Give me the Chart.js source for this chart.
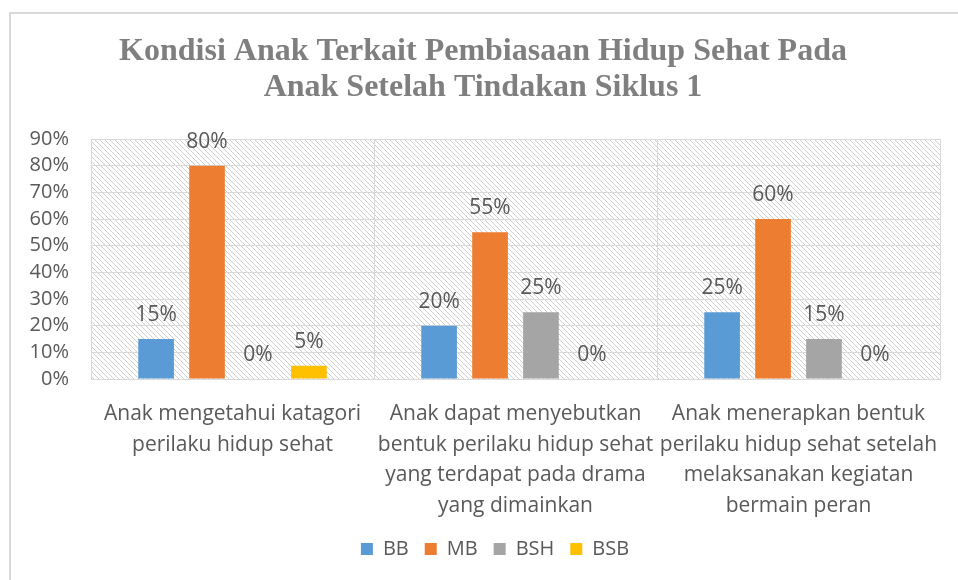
<!DOCTYPE html>
<html>
<head>
<meta charset="utf-8">
<script src="https://cdn.jsdelivr.net/npm/chart.js@4/dist/chart.umd.min.js"></script>
<style>
  body { margin: 0; background: #fff; }
  #wrap { width: 958px; height: 580px; position: relative; }
</style>
</head>
<body>
<div id="wrap"><canvas id="chart_siklus1" width="958" height="580"></canvas></div>
<script>
// data
var categories = [
    ['Anak mengetahui katagori', 'perilaku hidup sehat'],
    ['Anak dapat menyebutkan', 'bentuk perilaku hidup sehat', 'yang terdapat pada drama', 'yang dimainkan'],
    ['Anak menerapkan bentuk', 'perilaku hidup sehat setelah', 'melaksanakan kegiatan', 'bermain peran']
];
var seriesNames = ['BB', 'MB', 'BSH', 'BSB'];
var bbValues = [15, 20, 25];
var mbValues = [80, 55, 60];
var bshValues = [0, 25, 15];
var bsbValues = [5, 0, 0];
var yMax = 90;
var yStep = 10;

var colors = ['#5B9BD5', '#ED7D31', '#A5A5A5', '#FFC000'];
var textGray = '#595959';
var labelFont = "'Open Sans', 'Noto Sans', sans-serif";

function hatchPattern(ctx) {
    var c = document.createElement('canvas');
    c.width = 5; c.height = 5;
    var p = c.getContext('2d');
    p.strokeStyle = '#cfcfcf';
    p.lineWidth = 1;
    p.beginPath();
    p.moveTo(-1, -1); p.lineTo(6, 6);
    p.moveTo(-1, 4); p.lineTo(1, 6);
    p.moveTo(4, -1); p.lineTo(6, 1);
    p.stroke();
    return ctx.createPattern(c, 'repeat');
}

var allValues = [bbValues, mbValues, bshValues, bsbValues];
var datasets = seriesNames.map(function (name, i) {
    return {
        label: name,
        data: allValues[i],
        backgroundColor: colors[i],
        borderWidth: 0,
        barPercentage: 0.7,
        categoryPercentage: 0.72
    };
});

var chart_siklus1 = new Chart(document.getElementById('chart_siklus1'), {
    type: 'bar',
    data: {
        labels: categories,
        datasets: datasets
    },
    options: {
        animation: false,
        responsive: false,
        layout: {
            padding: { left: 26, right: 18, top: 18, bottom: 11 }
        },
        plugins: {
            title: {
                display: true,
                text: ['Kondisi Anak Terkait Pembiasaan Hidup Sehat Pada', 'Anak Setelah Tindakan Siklus 1'],
                color: '#7f7f7f',
                font: { family: "'Liberation Serif', serif", size: 32, weight: 'bold', lineHeight: 1.125 },
                padding: { top: 16, bottom: 33 }
            },
            legend: {
                position: 'bottom',
                labels: {
                    color: textGray,
                    font: { family: labelFont, size: 20 },
                    boxWidth: 12,
                    boxHeight: 12,
                    padding: 16
                }
            },
            tooltip: { enabled: false }
        },
        scales: {
            x: {
                grid: {
                    offset: true,
                    color: '#d9d9d9',
                    drawTicks: false
                },
                border: { color: '#d9d9d9' },
                ticks: {
                    color: textGray,
                    font: { family: labelFont, size: 21, lineHeight: 1.45 },
                    padding: 20,
                    maxRotation: 0,
                    autoSkip: false
                },
                afterFit: function (scale) {
                    scale.height = 144;
                    scale.paddingLeft = 0;
                    scale.paddingRight = 0;
                }
            },
            y: {
                min: 0,
                max: yMax,
                grid: {
                    color: '#d9d9d9',
                    drawTicks: false
                },
                border: { display: false },
                ticks: {
                    stepSize: yStep,
                    autoSkip: false,
                    color: textGray,
                    font: { family: labelFont, size: 20 },
                    padding: 22,
                    callback: function (value) { return value + '%'; }
                },
                afterFit: function (scale) {
                    scale.width = 65;
                }
            }
        }
    },
    plugins: [{
        id: 'hatchBackground',
        afterLayout: function (chart) {
            // legend sits a little right of centre in the original
            chart.legend.left += 12;
            chart.legend.right += 12;
        },
        beforeDraw: function (chart) {
            var ctx = chart.ctx;
            var a = chart.chartArea;
            ctx.save();
            ctx.fillStyle = '#fff';
            ctx.fillRect(0, 0, chart.width, chart.height);
            ctx.fillStyle = hatchPattern(ctx);
            ctx.fillRect(a.left, a.top, a.right - a.left, a.bottom - a.top);
            // outer frame (top and left edges visible in the original)
            ctx.fillStyle = '#d9d9d9';
            ctx.fillRect(9, 12, chart.width - 9, 2);
            ctx.fillRect(9, 12, 2, chart.height - 12);
            ctx.restore();
        }
    }, {
        id: 'valueLabels',
        afterDatasetsDraw: function (chart) {
            var ctx = chart.ctx;
            ctx.save();
            ctx.fillStyle = textGray;
            ctx.font = '21px ' + labelFont;
            ctx.textAlign = 'center';
            ctx.textBaseline = 'alphabetic';
            chart.data.datasets.forEach(function (ds, i) {
                chart.getDatasetMeta(i).data.forEach(function (bar, j) {
                    ctx.fillText(ds.data[j] + '%', bar.x, bar.y - 18);
                });
            });
            ctx.restore();
        }
    }]
});
</script>
</body>
</html>
